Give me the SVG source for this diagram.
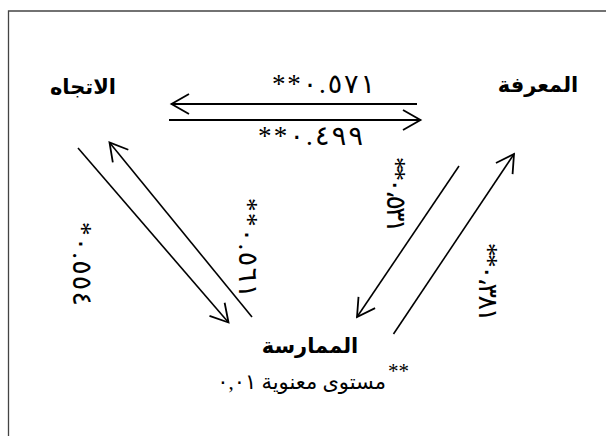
<svg xmlns="http://www.w3.org/2000/svg" width="606" height="436" viewBox="0 0 606 436">
<style>
.node{font-family:"DejaVu Sans","Noto Sans",sans-serif;font-weight:bold;font-size:21px;fill:#000}
.num{font-family:"Liberation Serif","DejaVu Sans",serif;font-size:27px;fill:#000;direction:ltr;unicode-bidi:bidi-override}
.note{font-family:"Liberation Serif","DejaVu Sans",serif;font-size:21px;fill:#000}
.ln{stroke:#000;fill:none}
.h{stroke-width:2}
.d{stroke-width:1.6}
</style>
<defs>
<marker id="arr" markerUnits="userSpaceOnUse" markerWidth="30" markerHeight="30" viewBox="-20 -15 30 30" refX="0" refY="0" orient="auto" overflow="visible">
<path d="M-17.5,-10 L0,0 L-17.5,10" fill="none" stroke="#000" stroke-width="1.8"/>
</marker>
</defs>
<rect width="606" height="436" fill="#fff"/>
<path d="M8.5,436 V11 H606" fill="none" stroke="#444" stroke-width="1.3"/>
<g id="node-attitude"><text class="node" x="83" y="94" text-anchor="middle">الاتجاه</text></g>
<g id="node-knowledge"><text class="node" x="538" y="92" text-anchor="middle" font-size="20">المعرفة</text></g>
<g id="node-practice"><text class="node" x="310" y="353" text-anchor="middle">الممارسة</text></g>
<g id="connectors">
<path class="ln h" d="M417,104 L171.5,104" marker-end="url(#arr)"/>
<path class="ln h" d="M169,120 L420.5,120" marker-end="url(#arr)"/>
<path class="ln d" d="M78,148 L228.5,322.5" marker-end="url(#arr)"/>
<path class="ln d" d="M252,317 L109.5,142.5" marker-end="url(#arr)"/>
<path class="ln d" d="M459,166 L357,317" marker-end="url(#arr)"/>
<path class="ln d" d="M393.5,334 L514,154" marker-end="url(#arr)"/>
</g>
<g id="labels">
<text class="num" x="272" y="93" textLength="103" lengthAdjust="spacing">**٠.٥٧١</text>
<text class="num" x="258" y="145" textLength="105" lengthAdjust="spacing">**٠.٤٩٩</text>
<text class="num" transform="translate(73,264) rotate(90)" x="-42" y="0" textLength="84" lengthAdjust="spacing">*٠.٥٥٤</text>
<text class="num" transform="translate(239,248) rotate(90)" x="-50" y="0" textLength="100" lengthAdjust="spacing">**٠.٥٦١</text>
<text class="num" transform="translate(387,195) rotate(90)" x="-38" y="0" textLength="76" lengthAdjust="spacing">**٠،٥٣١</text>
<text class="num" transform="translate(479,283) rotate(90)" x="-40" y="0" textLength="79" lengthAdjust="spacing">**٠،٣٨١</text>
</g>
<g id="note">
<text class="note" x="386" y="389" text-anchor="end">مستوى معنوية ٠,٠١</text>
<text class="note" x="388" y="378" font-size="13">**</text>
</g>
</svg>
